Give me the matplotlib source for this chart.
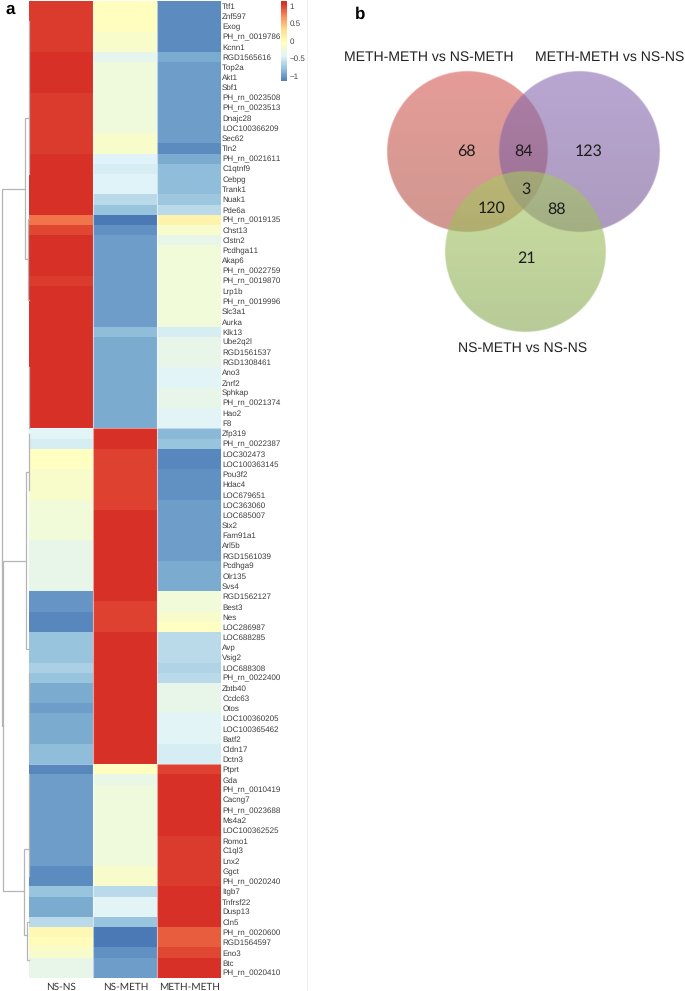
import numpy as np
import matplotlib
matplotlib.use("Agg")
import matplotlib.pyplot as plt
from matplotlib.colors import LinearSegmentedColormap, to_rgb
from matplotlib.lines import Line2D

W, H = 685, 991

# ---------- data ----------
columns = ["NS-NS", "NS-METH", "METH-METH"]
genes = ["Ttf1","Znf597","Exog","PH_rn_0019786","Kcnn1","RGD1565616","Top2a","Akt1","Sbf1",
 "PH_rn_0023508","PH_rn_0023513","Dnajc28","LOC100366209","Sec62","Tln2","PH_rn_0021611",
 "C1qtnf9","Cebpg","Trank1","Nuak1","Pde6a","PH_rn_0019135","Chst13","Clstn2","Pcdhga11",
 "Akap6","PH_rn_0022759","PH_rn_0019870","Lrp1b","PH_rn_0019996","Slc3a1","Aurka","Klk13",
 "Ube2q2l","RGD1561537","RGD1308461","Ano3","Znrf2","Sphkap","PH_rn_0021374","Hao2","F8",
 "Zfp319","PH_rn_0022387","LOC302473","LOC100363145","Pou3f2","Hdac4","LOC679651","LOC363060",
 "LOC685007","Stx2","Fam91a1","Arl5b","RGD1561039","Pcdhga9","Olr135","Svs4","RGD1562127",
 "Best3","Nes","LOC286987","LOC688285","Avp","Vsig2","LOC688308","PH_rn_0022400","Zbtb40",
 "Ccdc63","Otos","LOC100360205","LOC100365462","Batf2","Cldn17","Dctn3","Ptprt","Gda",
 "PH_rn_0010419","Cacng7","PH_rn_0023688","Ms4a2","LOC100362525","Romo1","C1ql3","Lnx2","Ggct",
 "PH_rn_0020240","Itgb7","Tnfrsf22","Dusp13","Cln5","PH_rn_0020600","RGD1564597","Eno3","Btc",
 "PH_rn_0020410"]

ns_ns = [1.08,1.08,1.08,1.08,1.08,1.14,1.14,1.14,1.14,1.08,1.08,1.08,1.08,1.08,1.08,1.14,
 1.14,1.14,1.14,1.14,1.14,0.85,1.05,1.14,1.14,1.14,1.14,1.08,1.14,1.14,1.14,1.14,1.14,
 1.14,1.14,1.14,1.14,1.14,1.14,1.14,1.14,1.14,
 -0.36,-0.42,-0.01,-0.01,-0.08,-0.08,-0.08,-0.18,-0.18,-0.18,-0.18,-0.28,-0.28,-0.28,-0.28,-0.28,
 -0.97,-0.97,-1.03,-1.03,-0.72,-0.72,-0.72,-0.62,-0.72,-0.85,-0.85,-0.93,-0.85,-0.85,-0.85,-0.77,-0.77,
 -1.03,-0.93,-0.93,-0.93,-0.93,-0.93,-0.93,-0.93,-0.93,-0.93,-1.02,-1.02,-0.72,-0.85,-0.85,-0.55,
 0.08,0.04,-0.08,-0.28,-0.28]

ns_meth = [0.0,0.0,0.0,-0.07,-0.07,-0.30,-0.20,-0.20,-0.20,-0.20,-0.20,-0.20,-0.20,-0.08,-0.08,-0.38,
 -0.42,-0.38,-0.38,-0.55,-0.72,-1.10,-1.00,-0.92,-0.92,-0.92,-0.92,-0.92,-0.92,-0.92,-0.92,-0.92,-0.76,
 -0.85,-0.85,-0.85,-0.85,-0.85,-0.85,-0.85,-0.85,-0.85,
 1.14,1.14,1.07,1.07,1.07,1.07,1.07,1.07,1.14,1.14,1.14,1.14,1.14,1.14,1.14,1.14,
 1.14,1.07,1.07,1.07,1.14,1.14,1.14,1.14,1.14,1.14,1.14,1.14,1.14,1.14,1.14,1.14,1.14,
 0.0,-0.27,-0.20,-0.20,-0.20,-0.20,-0.20,-0.20,-0.20,-0.20,-0.08,-0.08,-0.55,-0.36,-0.36,-0.72,
 -1.10,-1.10,-1.00,-0.92,-0.92]

meth_meth = [-1.02,-1.02,-1.02,-1.02,-1.02,-0.85,-0.93,-0.93,-0.93,-0.93,-0.93,-0.93,-0.93,-0.93,-1.02,-0.85,
 -0.76,-0.76,-0.76,-0.70,-0.55,0.15,-0.07,-0.28,-0.18,-0.18,-0.18,-0.18,-0.18,-0.18,-0.18,-0.18,-0.42,
 -0.28,-0.28,-0.28,-0.36,-0.36,-0.28,-0.28,-0.36,-0.36,
 -0.78,-0.72,-1.03,-1.03,-1.00,-1.00,-1.00,-0.92,-0.92,-0.92,-0.92,-0.92,-0.92,-0.85,-0.85,-0.85,
 -0.18,-0.17,-0.07,-0.01,-0.55,-0.55,-0.55,-0.60,-0.55,-0.28,-0.28,-0.28,-0.36,-0.36,-0.36,-0.42,-0.42,
 1.07,1.14,1.14,1.14,1.14,1.14,1.14,1.08,1.08,1.08,1.08,1.08,1.14,1.14,1.14,1.14,
 0.95,0.95,1.05,1.14,1.14]

colorbar_ticks = [-1, -0.5, 0, 0.5, 1]
colorbar_labels = ["\u22121", "\u22120.5", "0", "0.5", "1"]

# dendrogram links: merge height, upper child row, lower child row,
# height of upper child, height of lower child
dendro_links = [
 (27.5, 18.5, 71.2, 4.0, 26.5),
 (26.5, 55.0, 87.5, 3.0, 5.0),
 (4.0, 11.5, 25.4, 0.8, 1.6),
 (1.6, 21.4, 29.4, 0.5, 0.5),
 (3.0, 46.3, 63.7, 0.8, 0.8),
 (5.0, 83.3, 91.8, 0.4, 2.0),
 (2.0, 90.5, 94.2, 0.5, 0.5),
 (0.7, 2.0, 17.0, 0.2, 0.2),
 (0.7, 36.0, 42.0, 0.2, 0.2),
 (0.7, 42.5, 48.0, 0.2, 0.2),
 (0.7, 66.0, 74.0, 0.2, 0.2),
 (0.6, 76.0, 86.0, 0.2, 0.2),
]
dendro_max = 29.0

venn_names = ["METH-METH vs NS-METH", "METH-METH vs NS-NS", "NS-METH vs NS-NS"]
venn_counts = ["68", "84", "123", "3", "120", "88", "21"]

# ---------- layout helpers ----------
def rect(x0, y0, x1, y1):
    return [x0 / W, 1 - y1 / H, (x1 - x0) / W, (y1 - y0) / H]

def fx(x): return x / W

plt.rcParams["font.family"] = ["Liberation Sans", "DejaVu Sans"]
plt.rcParams["text.hinting"] = "none"
plt.rcParams["text.hinting_factor"] = 1
fig = plt.figure(figsize=(W / 100, H / 100), dpi=100, facecolor="white")

cmap = LinearSegmentedColormap.from_list(
    "rdylbu7", ["#4575B4","#91BFDB","#E0F3F8","#FFFFBF","#FEE090","#FC8D59","#D73027"], N=100)

# ---------- heatmap ----------
matrix = np.array([ns_ns, ns_meth, meth_meth]).T
ax = fig.add_axes(rect(29.3, 1, 221.3, 978))
mesh = ax.pcolormesh(matrix, cmap=cmap, vmin=-1.143, vmax=1.143, rasterized=True, linewidth=0)
ax.set_ylim(len(genes), 0)
ax.set_xlim(0, 3)
ax.yaxis.tick_right()
ax.set_yticks(np.arange(len(genes)) + 0.5, genes)
ax.set_xticks(np.arange(3) + 0.5, columns)
ax.tick_params(axis="both", length=0)
ax.tick_params(axis="y", labelsize=5.5, labelcolor="#3c3c3c", pad=0.6)
ax.tick_params(axis="x", labelsize=7.2, labelcolor="#333333", pad=3)
for lab in ax.get_xticklabels():
    lab.set_family(["Lato", "DejaVu Sans"])
for s in ax.spines.values():
    s.set_visible(False)
ax.vlines([1, 2], 0, len(genes), color="white", lw=0.8, alpha=0.55)
ax.hlines([42, 75], 0, 3, color="white", lw=0.8, alpha=0.45)

# ---------- dendrogram ----------
dax = fig.add_axes(rect(0, 1, 29.3, 978))
dax.set_xlim(dendro_max, 0)
dax.set_ylim(len(genes), 0)
dax.axis("off")
for h, r0, r1, c0, c1 in dendro_links:
    dax.plot([c0, h, h, c1], [r0, r0, r1, r1], color="#b5b5b5", lw=0.9,
             solid_joinstyle="miter", clip_on=False)

# ---------- colour bar ----------
cax = fig.add_axes(rect(281, 1, 286.5, 81))
cb = fig.colorbar(mesh, cax=cax, ticks=colorbar_ticks)
cb.set_ticklabels(colorbar_labels)
cb.outline.set_visible(False)
cb.solids.set_edgecolor("face")
cax.tick_params(length=0, labelsize=5.6, labelcolor="#444444", pad=2)

# faint edge of the panel image
fig.add_artist(Line2D([fx(306.5)] * 2, [0, 1], color="#efefef", lw=0.7))

# ---------- Venn ----------
vax = fig.add_axes([0, 0, 1, 1], facecolor="none")
circles = [((468, 152), "#D55A53", "#B15246"),
           ((580, 152), "#8A6CB4", "#765794"),
           ((526, 252), "#A7CA61", "#89A853")]
radius = 80.5
for (cx, cy), top, bottom in circles:
    n = int(2 * (radius + 2) * 3)
    xs = np.linspace(-(radius + 2), radius + 2, n)
    gx, gy = np.meshgrid(xs, xs)
    t = np.clip((gy + radius) / (2 * radius), 0, 1)[:, :, None]
    a, b = np.array(to_rgb(top)), np.array(to_rgb(bottom))
    rgb = a * (1 - t) + b * t
    alpha = 0.6 * np.clip(radius - np.hypot(gx, gy) + 0.5, 0, 1)
    img = np.dstack([rgb, alpha])
    vax.imshow(img, extent=(cx - radius - 2, cx + radius + 2, cy + radius + 2, cy - radius - 2),
               aspect="auto", interpolation="antialiased", zorder=2)
vax.set_xlim(0, W)
vax.set_ylim(H, 0)
vax.axis("off")

count_pos = [(466.7, 151), (524, 151), (589, 151), (525.7, 189), (492, 208.7), (557, 209), (527, 258)]
for (x, y), s in zip(count_pos, venn_counts):
    vax.text(x, y, s, ha="center", va="center", fontsize=11.2, color="#1c1c1c",
             family=["Lato", "DejaVu Sans"], zorder=5)

vax.text(429, 57, venn_names[0], ha="center", va="center", fontsize=10.3, color="#222222", zorder=5)
vax.text(535, 57, venn_names[1], ha="left", va="center", fontsize=10.2, color="#222222", zorder=5)
vax.text(522.7, 348, venn_names[2], ha="center", va="center", fontsize=10.3, color="#222222", zorder=5)

vax.text(6, 14, "a", ha="left", va="baseline", fontsize=12.5, fontweight="bold", color="black", zorder=5)
vax.text(355, 19, "b", ha="left", va="baseline", fontsize=12.5, fontweight="bold", color="black", zorder=5)

fig.savefig("out.png", dpi=100, facecolor="white")
